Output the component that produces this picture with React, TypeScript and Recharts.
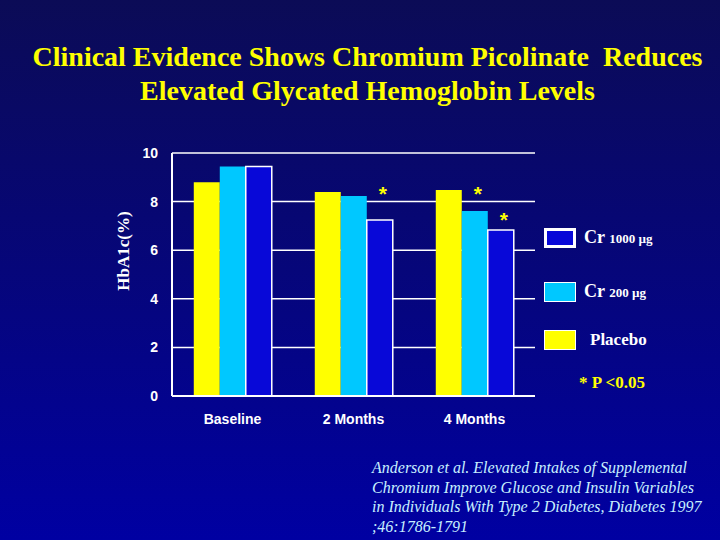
import { BarChart, Bar, XAxis, YAxis, CartesianGrid, LabelList } from "recharts";

// HbA1c (%) by time point
const timePoints = ["Baseline", "2 Months", "4 Months"];
const placebo = [8.8, 8.4, 8.48];
const cr200 = [9.44, 8.23, 7.61];
const cr1000 = [9.44, 7.24, 6.83];
// height (in HbA1c units) where the "*" marks sit; null = no mark
const cr200Star: (number | null)[] = [null, null, 8.5];
const cr1000Star: (number | null)[] = [null, 8.5, 7.45];
const yTicks = [0, 2, 4, 6, 8, 10];

const citation = [
  "Anderson et al. Elevated Intakes of Supplemental",
  "Chromium Improve Glucose and Insulin Variables",
  "in Individuals With Type 2 Diabetes, Diabetes 1997",
  ";46:1786-1791",
];

const data = timePoints.map((t, i) => ({
  name: t,
  placebo: placebo[i],
  cr200: cr200[i],
  cr1000: cr1000[i],
  cr200Star: cr200Star[i],
  cr1000Star: cr1000Star[i],
}));

const YELLOW = "#ffff00";
const CYAN = "#00c8ff";
const BLUE = "#0808d8";
const serif = "'Liberation Serif', 'Times New Roman', serif";
const sans = "'Liberation Sans', Arial, sans-serif";

// draws a yellow asterisk above a bar, at the stored star height
function starLabel(values: number[]) {
  return (props: any) => {
    const { x, y, width, height, value, index } = props;
    if (value == null) return null;
    const perUnit = Number(height) / values[index];
    const cy = Number(y) + Number(height) - value * perUnit;
    return (
      <text
        x={Number(x) + Number(width) / 2 + 3}
        y={cy + 12}
        textAnchor="middle"
        fill={YELLOW}
        fontFamily={sans}
        fontWeight="bold"
        fontSize={21}
      >
        *
      </text>
    );
  };
}

function LegendRow({ top, color, border, children }: { top: number; color: string; border: number; children: any }) {
  return (
    <div style={{ position: "absolute", left: 544, top, display: "flex", alignItems: "center" }}>
      <div
        style={{
          width: 32 - border * 2,
          height: 20 - border * 2,
          background: color,
          border: `${border}px solid #fff`,
        }}
      />
      {children}
    </div>
  );
}

export default function App() {
  return (
    <div
      style={{
        position: "absolute",
        left: 0,
        top: 0,
        width: 720,
        height: 540,
        overflow: "hidden",
        background: "linear-gradient(to bottom, #0b0b56 0%, #06067a 50%, #0000a2 100%)",
      }}
    >
      {/* title */}
      <div
        style={{
          position: "absolute",
          left: 0,
          top: 40,
          width: 735,
          textAlign: "center",
          color: YELLOW,
          fontFamily: serif,
          fontWeight: "bold",
          fontSize: 28,
          lineHeight: "34px",
          whiteSpace: "pre",
        }}
      >
        {"Clinical Evidence Shows Chromium Picolinate  Reduces\nElevated Glycated Hemoglobin Levels"}
      </div>

      <div style={{ position: "absolute", left: 0, top: 0 }}>
        <BarChart
          width={720}
          height={540}
          data={data}
          margin={{ top: 153, right: 185, bottom: 114, left: 132 }}
          barCategoryGap="18%"
          barGap={0}
        >
          <CartesianGrid horizontal vertical={false} stroke="#fff" strokeWidth={1.5} />
          <XAxis
            dataKey="name"
            height={30}
            axisLine={{ stroke: "#fff", strokeWidth: 2 }}
            tickLine={false}
            tickMargin={12}
            tick={{ fill: "#fff", fontFamily: sans, fontWeight: "bold", fontSize: 14 }}
          />
          <YAxis
            width={40}
            domain={[0, 10]}
            ticks={yTicks}
            interval={0}
            axisLine={{ stroke: "#fff", strokeWidth: 2 }}
            tickLine={false}
            tickSize={0}
            tickMargin={14}
            tick={{ fill: "#fff", fontFamily: sans, fontWeight: "bold", fontSize: 14 }}
          />
          <Bar dataKey="placebo" fill={YELLOW} isAnimationActive={false} />
          <Bar dataKey="cr200" fill={CYAN} isAnimationActive={false}>
            <LabelList dataKey="cr200Star" content={starLabel(cr200)} />
          </Bar>
          <Bar dataKey="cr1000" fill={BLUE} stroke="#fff" strokeWidth={1.5} isAnimationActive={false}>
            <LabelList dataKey="cr1000Star" content={starLabel(cr1000)} />
          </Bar>
        </BarChart>
      </div>

      {/* y axis title */}
      <div
        style={{
          position: "absolute",
          left: 124,
          top: 251,
          transform: "translate(-50%, -50%) rotate(-90deg)",
          color: "#fff",
          fontFamily: serif,
          fontWeight: "bold",
          fontSize: 17,
          whiteSpace: "nowrap",
        }}
      >
        HbA1c(%)
      </div>

      {/* legend */}
      <div style={{ color: "#fff", fontFamily: serif, fontWeight: "bold" }}>
        <LegendRow top={227} color={BLUE} border={3}>
          <span style={{ marginLeft: 8, fontSize: 18 }}>
            Cr <span style={{ fontSize: 13 }}>1000 µg</span>
          </span>
        </LegendRow>
        <LegendRow top={281} color={CYAN} border={1}>
          <span style={{ marginLeft: 8, fontSize: 18 }}>
            Cr <span style={{ fontSize: 13 }}>200 µg</span>
          </span>
        </LegendRow>
        <LegendRow top={330} color={YELLOW} border={1}>
          <span style={{ marginLeft: 14, fontSize: 17 }}>Placebo</span>
        </LegendRow>
        <div style={{ position: "absolute", left: 579, top: 373, fontSize: 17, color: YELLOW }}>* P &lt;0.05</div>
      </div>

      {/* citation */}
      <div
        style={{
          position: "absolute",
          left: 372,
          top: 458,
          color: "#c8f0ff",
          fontFamily: serif,
          fontStyle: "italic",
          fontSize: 16,
          lineHeight: "19.5px",
        }}
      >
        {citation.map((line) => (
          <div key={line} style={{ whiteSpace: "nowrap" }}>
            {line}
          </div>
        ))}
      </div>
    </div>
  );
}
